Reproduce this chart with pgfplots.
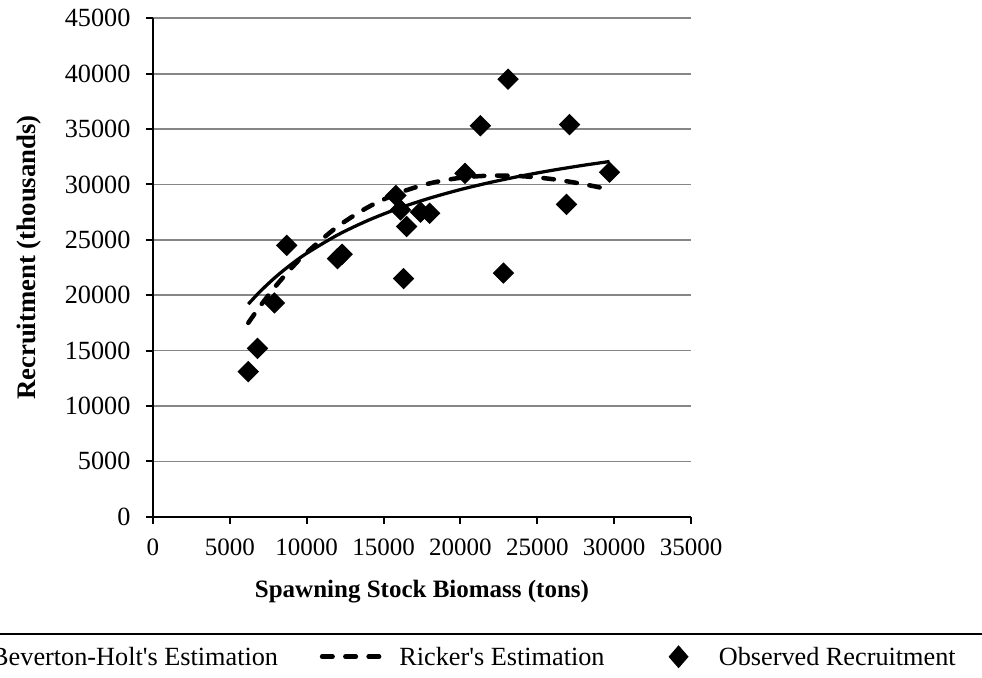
\documentclass[border=0pt]{standalone}
\usepackage{fontspec}
\setmainfont{Liberation Serif}
\usepackage{pgfplots}
\pgfplotsset{compat=1.18}
\definecolor{gridgray}{RGB}{134,134,134}
\pgfplotsset{diamond legend/.style={legend image code/.code={%
  \path[draw=none, fill=none] (0pt,0pt) (23pt,0pt);
  \fill[black, draw=none] (11.5pt,4.6pt) -- (15.5pt,0pt) -- (11.5pt,-4.6pt) -- (7.5pt,0pt) -- cycle;}}}

\begin{document}
\begin{tikzpicture}
\begin{axis}[
  at={(61.2pt,-206.7pt)}, anchor=south west,
  scale only axis, width=215.2pt, height=199.4pt,
  xmin=0, xmax=35000, ymin=0, ymax=45000,
  xtick distance=5000, ytick distance=5000,
  scaled ticks=false,
  /pgf/number format/1000 sep={},
  /pgf/number format/assume math mode=true,
  axis x line*=bottom, axis y line*=left,
  axis line style={-, black, line width=0.8pt},
  tick align=outside, major tick length=2.7pt,
  tick style={black, line width=0.8pt},
  ymajorgrids, major grid style={gridgray, line width=0.7pt},
  xticklabel style={font=\fontsize{10}{12}\selectfont, inner ysep=0pt, yshift=-5.9pt},
  yticklabel style={font=\fontsize{10.5}{12}\selectfont, inner xsep=0pt, xshift=-6.1pt},
  xlabel={Spawning Stock Biomass (tons)},
  ylabel={Recruitment (thousands)},
  every axis x label/.style={at={(axis description cs:0.5,-0.151)}, anchor=center,
    font=\bfseries\fontsize{10}{12}\selectfont},
  every axis y label/.style={at={(axis description cs:-0.2305,0.52)}, anchor=center,
    rotate=90, font=\bfseries\fontsize{10.7}{12}\selectfont},
  clip=false,
  legend columns=3,
  legend cell align=left,
  legend style={at={(axis description cs:-0.4517,-0.2808)}, anchor=west,
    draw=none, fill=none, inner sep=0pt, outer sep=0pt,
    font=\fontsize{10.5}{12}\selectfont,
    nodes={inner sep=0pt, text height=9.4pt, text depth=2pt},
    /tikz/column 1/.style={column sep=8.2pt},
    /tikz/column 2/.style={column sep=16.7pt},
    /tikz/column 3/.style={column sep=7pt},
    /tikz/column 4/.style={column sep=18.1pt},
    /tikz/column 5/.style={column sep=4.6pt}},
  legend image code/.code={\draw[#1] (0pt,0pt) -- (23pt,0pt);},
]
% Beverton-Holt fit
\addplot[black, line width=1.3pt, smooth] coordinates {
  (6200,19198) (7000,20379) (8000,21671) (9000,22795) (10000,23782)
  (12000,25434) (14000,26761) (16000,27851) (18000,28763) (20000,29536)
  (22000,30200) (24000,30777) (26000,31282) (28000,31729) (29700,32070)
};
% Ricker fit
\addplot[black, line width=1.8pt, line cap=round, dash pattern=on 4.2pt off 5.1pt, smooth] coordinates {
  (6200,17504) (7000,19074) (8000,20852) (9000,22439) (10000,23850)
  (12000,26188) (14000,27956) (16000,29236) (18000,30095) (20000,30598)
  (22000,30797) (24000,30742) (26000,30475) (28000,30029) (29700,29538)
};
% observed
\addplot[only marks, mark=diamond*, mark size=4pt,
  mark options={xscale=1.333, draw=black, fill=black}, diamond legend] coordinates {
  (6200,13100) (6800,15200) (7900,19300) (8700,24500) (12000,23300)
  (12300,23700) (15800,29000) (16100,27700) (16500,26200) (16300,21500)
  (17400,27500) (18000,27400) (20300,31000) (21300,35300) (23100,39500)
  (22800,22000) (27100,35400) (26900,28200) (29700,31100)
};
\legend{Beverton-Holt\textquotesingle s Estimation, Ricker\textquotesingle s Estimation, Observed Recruitment}
\end{axis}
\draw[line width=0.8pt] (-10pt,-253.6pt) -- (400pt,-253.6pt);
\pgfresetboundingbox
\path (0pt,0pt) rectangle (392.8pt,-270.8pt);
\end{tikzpicture}
\end{document}
